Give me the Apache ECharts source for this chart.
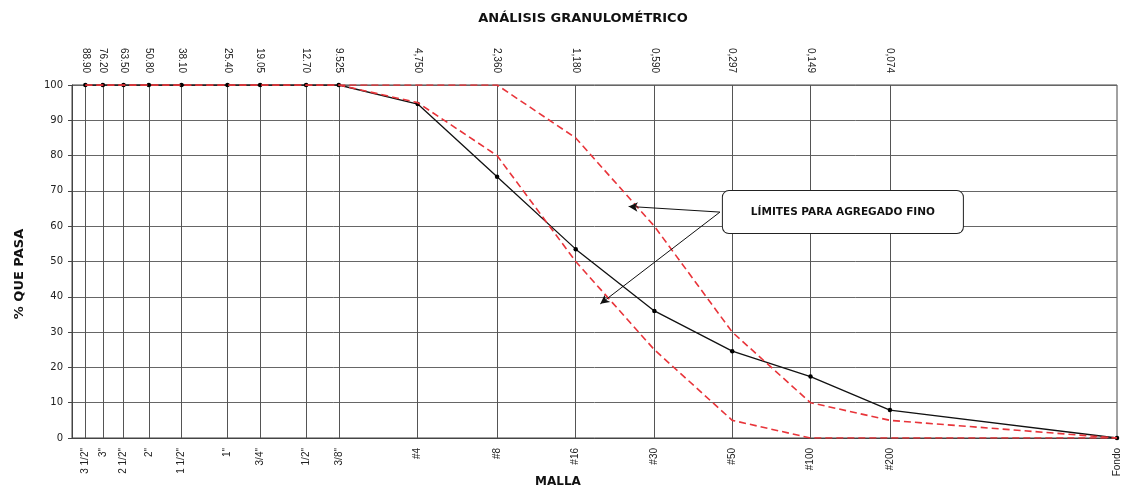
<!DOCTYPE html>
<html><head><meta charset="utf-8">
<script src="https://cdn.jsdelivr.net/npm/echarts@6/dist/echarts.min.js"></script>
<style>html,body{margin:0;padding:0;background:#fff}#c{width:1128px;height:491px}</style>
</head><body><div id="c"></div>
<script>
// Sieve openings (mm); "Fondo" (pan) is placed at the right end of the log axis
const sieveSizes = [88.9, 76.2, 63.5, 50.8, 38.1, 25.4, 19.05, 12.7, 9.525, 4.75, 2.36, 1.18, 0.59, 0.297, 0.149, 0.074, 0.01];
const sieveNames = ['3 1/2"', '3"', '2 1/2"', '2"', '1 1/2"', '1"', '3/4"', '1/2"', '3/8"', '#4', '#8', '#16', '#30', '#50', '#100', '#200', 'Fondo'];
const sizeLabels = ['88.90', '76.20', '63.50', '50.80', '38.10', '25.40', '19.05', '12.70', '9.525', '4,750', '2,360', '1,180', '0,590', '0,297', '0,149', '0,074', ''];
const pctPassing = [100, 100, 100, 100, 100, 100, 100, 100, 100, 94.6, 74.0, 53.5, 36.0, 24.6, 17.4, 7.9, 0];
const upperLimit = [100, 100, 100, 100, 100, 100, 100, 100, 100, 100, 100, 85, 60, 30, 10, 5, 0];
const lowerLimit = [100, 100, 100, 100, 100, 100, 100, 100, 100, 95, 80, 50, 25, 5, 0, 0, 0];
const yTicks = [0, 10, 20, 30, 40, 50, 60, 70, 80, 90, 100];

const pairs = arr => sieveSizes.map((s, i) => [s, arr[i]]);
const gridSieves = sieveSizes.slice(0, 16);
const idxOf = v => sieveSizes.findIndex(s => Math.abs(s - v) < 1e-9 * Math.max(1, s));
const nameOf = v => { const i = idxOf(v); return i >= 0 ? sieveNames[i] : ''; };
const sizeOf = v => { const i = idxOf(v); return i >= 0 ? sizeLabels[i] : ''; };

const FONT = '"Liberation Sans", Arial, sans-serif';
const BOLD = '"DejaVu Sans", "Liberation Sans", sans-serif';
const chart = echarts.init(document.getElementById('c'), null, {renderer: 'canvas'});
chart.setOption({
  animation: false,
  backgroundColor: '#fff',
  title: {
    text: 'ANÁLISIS GRANULOMÉTRICO', left: 578, top: 7, textAlign: 'center',
    textStyle: {fontFamily: BOLD, fontSize: 13, fontWeight: 'bold', color: '#111'}
  },
  grid: {left: 72, right: 11, top: 85, bottom: 53, show: true, borderColor: '#444', borderWidth: 1, containLabel: false},
  xAxis: [{
    type: 'log', logBase: 10, min: 0.01, max: 100, inverse: true, position: 'bottom',
    axisLine: {show: true, lineStyle: {color: '#444', width: 1}},
    splitLine: {show: false},
    minorSplitLine: {show: false},
    axisTick: {show: true, customValues: gridSieves, inside: true, length: 353, lineStyle: {color: '#555', width: 1}},
    axisLabel: {customValues: sieveSizes, rotate: 90, margin: 10, fontFamily: FONT, fontSize: 10, color: '#222',
      formatter: v => nameOf(v)}
  }, {
    type: 'log', logBase: 10, min: 0.01, max: 100, inverse: true, position: 'top',
    axisLine: {show: false}, splitLine: {show: false},
    axisTick: {show: false},
    axisLabel: {customValues: gridSieves, rotate: 90, margin: 12, fontFamily: FONT, fontSize: 10, color: '#222',
      formatter: v => sizeOf(v)}
  }],
  yAxis: {
    type: 'value', min: 0, max: 100, interval: 10,
    axisLine: {show: true, lineStyle: {color: '#444'}},
    axisTick: {show: true, length: 4, lineStyle: {color: '#444'}},
    axisLabel: {fontFamily: BOLD, fontSize: 10, color: '#222', margin: 9, formatter: v => yTicks.includes(v) ? String(v) : ''},
    splitLine: {show: true, lineStyle: {color: '#666', width: 1}}
  },
  graphic: [{
    type: 'text', x: 20, y: 274, rotation: Math.PI / 2,
    style: {text: '% QUE PASA', font: 'bold 13px ' + BOLD, fill: '#111', align: 'center', verticalAlign: 'middle'}
  }, {
    type: 'text', left: 535, top: 476,
    style: {text: 'MALLA', font: 'bold 12px ' + BOLD, fill: '#111'}
  }],
  series: [{
    name: 'Muestra', type: 'line', data: pairs(pctPassing), z: 3,
    lineStyle: {color: '#111', width: 1.3},
    symbol: 'circle', symbolSize: 4.5, itemStyle: {color: '#000'}
  }, {
    name: 'Límite superior', type: 'line', data: pairs(upperLimit), z: 4,
    lineStyle: {color: '#e8343a', width: 1.6, type: [7, 4]},
    symbol: 'none'
  }, {
    name: 'Límite inferior', type: 'line', data: pairs(lowerLimit), z: 4,
    lineStyle: {color: '#e8343a', width: 1.6, type: [7, 4]},
    symbol: 'none'
  }, {
    name: 'Anotación', type: 'line', data: [], z: 6, silent: true,
    markLine: {
      silent: true, symbol: ['none', 'arrow'], symbolSize: [7, 9],
      lineStyle: {color: '#111', width: 1, type: 'solid'}, label: {show: false},
      data: [
        [{coord: [0.331, 64]}, {coord: [0.74, 65.6]}],
        [{coord: [0.331, 64]}, {coord: [0.95, 38]}]
      ]
    },
    markPoint: {
      silent: true, symbol: 'rect', symbolSize: 1, itemStyle: {color: 'rgba(0,0,0,0)'},
      data: [{coord: [0.112, 64]}],
      label: {
        show: true, position: 'inside', formatter: 'LÍMITES PARA AGREGADO FINO',
        fontFamily: BOLD, fontSize: 10.5, fontWeight: 'bold', color: '#111',
        backgroundColor: '#fff', borderColor: '#222', borderWidth: 1, borderRadius: 6,
        width: 240, height: 42, lineHeight: 42, padding: 0, align: 'center'
      }
    }
  }]
});
</script></body></html>
